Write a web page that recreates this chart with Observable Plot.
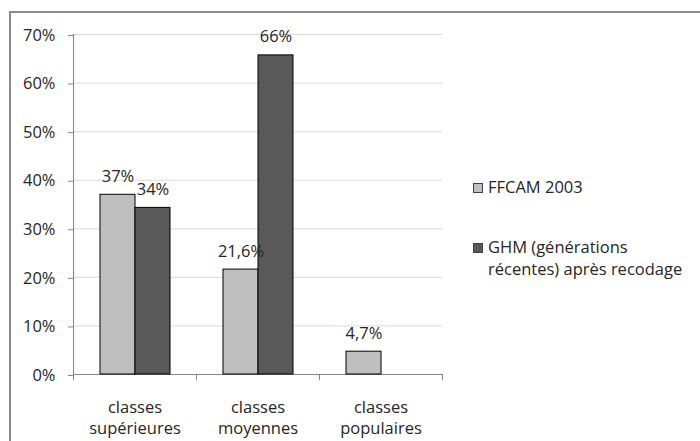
<!DOCTYPE html>
<html>
<head>
<meta charset="utf-8">
<script src="https://cdn.jsdelivr.net/npm/d3@7"></script>
<script src="https://cdn.jsdelivr.net/npm/@observablehq/plot@0.6"></script>
<style>
  body { margin: 0; background: #fff; }
  #chart { width: 700px; height: 441px; overflow: hidden; position: relative; }
</style>
</head>
<body>
<div id="chart"></div>
<script>
// ---- data ----
const categories = ["classes supérieures", "classes moyennes", "classes populaires"];
const categoryLabels = ["classes\nsupérieures", "classes\nmoyennes", "classes\npopulaires"];
const series = ["FFCAM 2003", "GHM (générations récentes) après recodage"];
const legendLines = [["FFCAM 2003"], ["GHM (générations", "récentes) après recodage"]];
const ffcamValues = [0.37, 0.216, 0.047];
const ghmValues = [0.343, 0.657, null];
const ffcamLabels = ["37%", "21,6%", "4,7%"];
const ghmLabels = ["34%", "66%", ""];
const yTicks = [0, 0.1, 0.2, 0.3, 0.4, 0.5, 0.6, 0.7];
const colors = ["#bfbfbf", "#595959"];

// ---- table ----
const rows = [];
categories.forEach((c, i) => {
  rows.push({category: c, series: series[0], value: ffcamValues[i], label: ffcamLabels[i]});
  rows.push({category: c, series: series[1], value: ghmValues[i], label: ghmLabels[i]});
});
const bars = rows.filter(d => d.value != null);

const textColor = "#262626";
const axisColor = "#868686";
const font = "'Open Sans', sans-serif";

const plot = Plot.plot({
  width: 700,
  height: 441,
  marginLeft: 73,
  marginRight: 258,
  marginTop: 34,
  marginBottom: 67,
  style: {fontFamily: font, fontSize: "16.5px", color: textColor, background: "#fff", overflow: "visible"},
  fx: {domain: categories, padding: 0, label: null},
  x: {domain: series, paddingInner: 0, paddingOuter: 0.757, axis: null},
  y: {domain: [0, 0.7], label: null},
  color: {domain: series, range: colors},
  marks: [
    Plot.ruleY(yTicks.slice(1), {stroke: "#d9d9d9", strokeWidth: 1}),
    Plot.ruleY([0], {stroke: axisColor, strokeWidth: 1}),
    Plot.axisY(yTicks, {tickFormat: d3.format(".0%"), tickSize: 5, tickPadding: 13, stroke: axisColor, fill: textColor, label: null, dy: 1}),
    Plot.axisFx({anchor: "bottom", tickSize: 0, tickPadding: 23, lineHeight: 1.3, fill: textColor, label: null,
      tickFormat: c => categoryLabels[categories.indexOf(c)]}),
    Plot.barY(bars, {fx: "category", x: "series", y: "value", fill: "series", stroke: "#000", strokeWidth: 1}),
    Plot.text(bars, {fx: "category", x: "series", y: "value", text: "label", dy: -13, lineAnchor: "bottom", fill: textColor})
  ]
});

document.getElementById("chart").appendChild(plot);

// ---- extra axis details using the plot's scales ----
const svg = d3.select(plot);
const fx = plot.scale("fx");
const y = plot.scale("y");
const x0 = fx.range[0];
const y0 = y.apply(0);
const y1 = y.apply(0.7);
const boundaries = categories.map(c => fx.apply(c)).concat([fx.apply(categories[categories.length - 1]) + fx.step]);
const g = svg.append("g").attr("stroke", axisColor).attr("stroke-width", 1);
g.append("line").attr("x1", Math.round(x0) + 0.5).attr("x2", Math.round(x0) + 0.5).attr("y1", y1).attr("y2", y0);
boundaries.forEach(b => {
  g.append("line").attr("x1", Math.round(b) + 0.5).attr("x2", Math.round(b) + 0.5).attr("y1", y0).attr("y2", y0 + 6);
});

// ---- legend ----
const legend = svg.append("g").attr("font-family", font).attr("font-size", 16.5)
  .attr("fill", textColor).attr("text-anchor", "start");
const legendTops = [183, 243];
series.forEach((s, i) => {
  legend.append("rect").attr("x", 473.5).attr("y", legendTops[i] + 0.5).attr("width", 9).attr("height", 9)
    .attr("fill", colors[i]).attr("stroke", "#404040").attr("stroke-width", 1);
  legendLines[i].forEach((line, j) => {
    legend.append("text").attr("x", 488).attr("y", legendTops[i] + 10 + j * 22).text(line);
  });
});

// ---- outer chart border ----
svg.append("path").attr("d", "M10,441V12H700")
  .attr("fill", "none").attr("stroke", "#8a8a8a").attr("stroke-width", 2);
</script>
</body>
</html>
